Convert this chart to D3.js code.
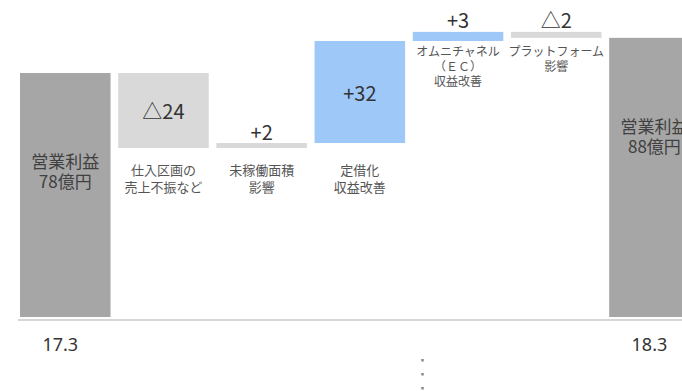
<!DOCTYPE html>
<html>
<head>
<meta charset="utf-8">
<script src="https://cdn.jsdelivr.net/npm/d3@7"></script>
<style>
  html, body { margin: 0; padding: 0; background: #fff; overflow: hidden; }
  svg { display: block; font-family: "Noto Sans CJK JP", "Noto Sans", sans-serif; }
</style>
</head>
<body>
<svg id="chart" width="682" height="391"></svg>
<script>
// ---- data ----
const categories = ["start", "shiire", "mikadou", "teishaku", "omni", "platform", "end"];
const kinds      = ["total", "minus", "flat", "plus", "plus", "minus", "total"];
const startValue = 77.7;   // 営業利益78億円
const deltas     = [-23.9, 1.6, 32.5, 2.9, -1.9];
const endValue   = 88.9;   // 営業利益88億円
const valueLabels = ["", "△24", "+2", "+32", "+3", "△2", ""];
const totalLabels = [["営業利益", "78億円"], null, null, null, null, null, ["営業利益", "88億円"]];
const subLabels = [
  null,
  ["仕入区画の", "売上不振など"],
  ["未稼働面積", "影響"],
  ["定借化", "収益改善"],
  ["オムニチャネル", "（ＥＣ）", "収益改善"],
  ["プラットフォーム", "影響"],
  null
];
const tickLabels = ["17.3", "", "", "", "", "", "18.3"];

// ---- build waterfall segments ----
let running = startValue;
const bars = categories.map((c, i) => {
  if (i === 0) return { c, i, lo: 0, hi: startValue };
  if (i === categories.length - 1) return { c, i, lo: 0, hi: endValue };
  const d = deltas[i - 1];
  const a = running, b = running + d;
  running = b;
  return { c, i, lo: Math.min(a, b), hi: Math.max(a, b) };
});

const colors = { total: "#a6a6a6", minus: "#d9d9d9", flat: "#d9d9d9", plus: "#9dc8f8" };

const svg = d3.select("#chart");
const x = d3.scaleBand().domain(categories).range([20, 699.7]).paddingInner(0.078).paddingOuter(0);
const y = d3.scaleLinear().domain([0, 100]).range([317, 3]);

// bars
svg.append("g").selectAll("rect").data(bars).join("rect")
  .attr("x", d => x(d.c))
  .attr("width", x.bandwidth())
  .attr("y", d => y(d.hi))
  .attr("height", d => y(d.lo) - y(d.hi))
  .attr("fill", d => colors[kinds[d.i]]);

// baseline
svg.append("line")
  .attr("x1", 18).attr("x2", 682)
  .attr("y1", 320).attr("y2", 320)
  .attr("stroke", "#c9c9c9").attr("stroke-width", 1.5);

// axis tick labels (years)
const axis = d3.axisBottom(x).tickSize(0).tickPadding(18).tickFormat((d, i) => tickLabels[i]);
const ax = svg.append("g").attr("transform", "translate(-5,320)").call(axis);
ax.select(".domain").remove();
ax.selectAll("text").attr("font-size", 18).attr("fill", "#333")
  .attr("font-family", "'Noto Sans', 'Noto Sans CJK JP', sans-serif");

// value labels
svg.append("g").selectAll("text").data(bars.filter(d => valueLabels[d.i])).join("text")
  .attr("x", d => x(d.c) + x.bandwidth() / 2)
  .attr("y", d => {
    const h = y(d.lo) - y(d.hi);
    return h > 30 ? (y(d.lo) + y(d.hi)) / 2 : y(d.hi) - 12;
  })
  .attr("text-anchor", "middle")
  .attr("dominant-baseline", "central")
  .attr("font-size", 20)
  .attr("fill", "#333")
  .text(d => valueLabels[d.i]);

// multi-line label helper: one <text> with tspans
function multiline(cx, y0, lines, size, lh, fill) {
  const t = svg.append("text")
    .attr("x", cx).attr("y", y0)
    .attr("text-anchor", "middle").attr("dominant-baseline", "central")
    .attr("font-size", size).attr("fill", fill);
  lines.forEach((s, k) => {
    t.append("tspan").attr("x", cx).attr("y", y0 + k * lh)
      .attr("dominant-baseline", "central").text(s);
  });
}

// total bar labels
bars.filter(d => totalLabels[d.i]).forEach(d => {
  const cx = x(d.c) + x.bandwidth() / 2;
  multiline(cx, y(d.hi) + 87, totalLabels[d.i], 17, 20, "#404040");
});

// category sub labels (grouped rows)
const groups = [[1, 2, 3], [4, 5]];
const groupStyle = [{ gap: 21, size: 13, lh: 17 }, { gap: 9, size: 12, lh: 15 }];
groups.forEach((g, gi) => {
  const bottom = d3.max(g, i => y(bars[i].lo));
  const st = groupStyle[gi];
  g.forEach(i => {
    const cx = x(categories[i]) + x.bandwidth() / 2;
    multiline(cx, bottom + st.gap, subLabels[i], st.size, st.lh, "#555");
  });
});

// dotted continuation marker
svg.append("line")
  .attr("x1", 422.5).attr("x2", 422.5).attr("y1", 359).attr("y2", 391)
  .attr("stroke", "#8a8a8a").attr("stroke-width", 2.5)
  .attr("stroke-dasharray", "2.5,11.5");
</script>
</body>
</html>
